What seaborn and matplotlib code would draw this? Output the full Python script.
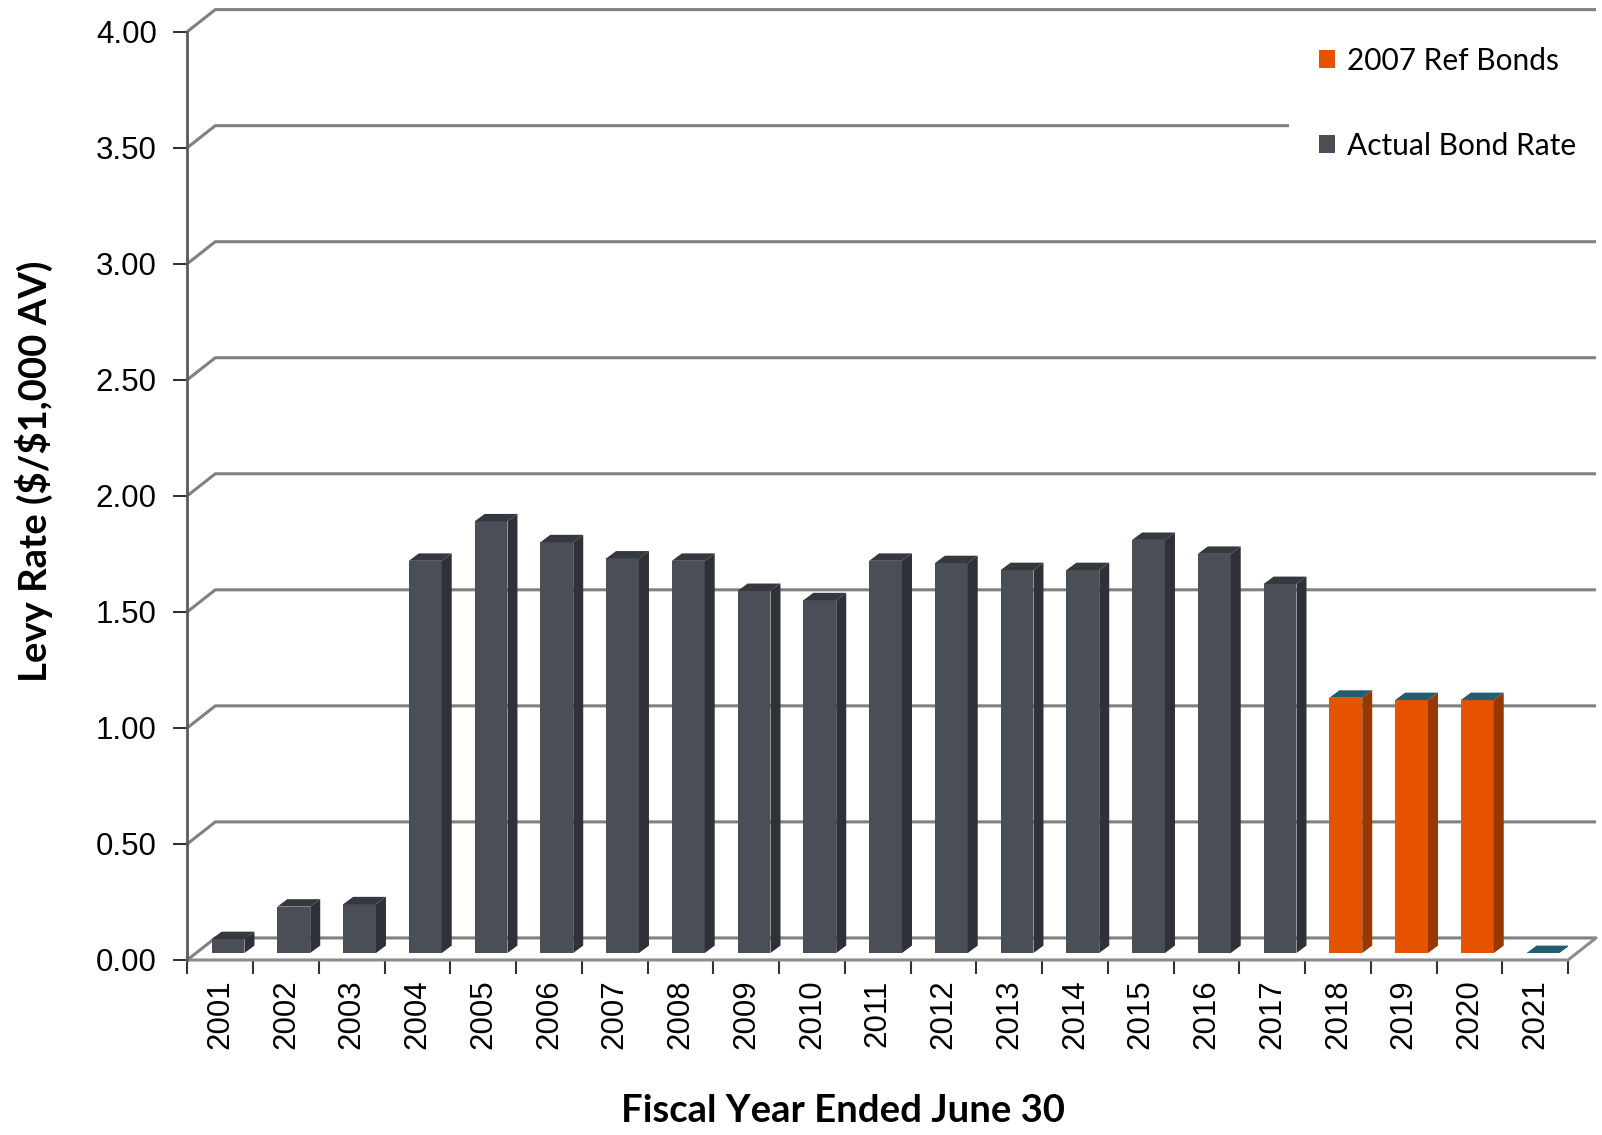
import numpy as np
import pandas as pd
import matplotlib
matplotlib.use("Agg")
import matplotlib.pyplot as plt
import seaborn as sns
from matplotlib.patches import Polygon, Patch
from matplotlib.colors import to_hex

# data
years = [str(y) for y in range(2001, 2022)]
rates = [0.06, 0.20, 0.21, 1.69, 1.86, 1.77, 1.70, 1.69, 1.56, 1.52, 1.69,
         1.68, 1.65, 1.65, 1.78, 1.72, 1.59, 1.10, 1.09, 1.09, 0.00]
series = ["Actual Bond Rate"] * 17 + ["2007 Ref Bonds"] * 4
series_names = ["2007 Ref Bonds", "Actual Bond Rate"]
front_colors = ["#e55300", "#4a4e57"]
side_colors = ["#983700", "#2e3137"]
top_colors = ["#245e6e", "#35383e"]
y_ticks = [0.0, 0.5, 1.0, 1.5, 2.0, 2.5, 3.0, 3.5, 4.0]

df = pd.DataFrame({"year": years, "rate": rates, "series": series})

sns.set_style("white")
plt.rcParams["font.family"] = ["Liberation Sans", "DejaVu Sans"]
plt.rcParams["text.color"] = "black"
plt.rcParams["xtick.color"] = "black"
plt.rcParams["ytick.color"] = "black"
plt.rcParams["axes.labelcolor"] = "black"

fig = plt.figure(figsize=(16.02, 11.35), dpi=100)
ax = fig.add_axes([0.1169, 0.1542, 0.8619, 0.8179])

sns.barplot(data=df, x="year", y="rate", hue="series", hue_order=series_names,
            palette=dict(zip(series_names, front_colors)), dodge=False,
            width=0.5, saturation=1, legend=False, linewidth=0, ax=ax, zorder=3)

# fake 3d: back wall offset and bar depth (data units)
OX, OY = 0.426, 0.095
BASE, SHIFT = 0.03, 0.12
BDX, BDY = 0.152, 0.032
faces = {f: (s, t) for f, s, t in zip(front_colors, side_colors, top_colors)}

for p in list(ax.patches):
    fc = to_hex(p.get_facecolor())
    side, top = faces[fc]
    x0 = p.get_x() + SHIFT
    w, h = p.get_width(), p.get_height()
    p.set_x(x0)
    p.set_y(BASE)
    y1 = BASE + h
    ax.add_patch(Polygon([(x0 + w, BASE), (x0 + w + BDX, BASE + BDY),
                          (x0 + w + BDX, y1 + BDY), (x0 + w, y1)],
                         closed=True, fc=side, ec="none", zorder=3))
    ax.add_patch(Polygon([(x0, y1), (x0 + BDX, y1 + BDY),
                          (x0 + w + BDX, y1 + BDY), (x0 + w, y1)],
                         closed=True, fc=top, ec="none", zorder=3))

# back wall gridlines
for v in y_ticks:
    ax.plot([-0.5, -0.5 + OX, 20.5 + OX], [v, v + OY, v + OY],
            color="#808080", lw=2.2, clip_on=False, zorder=1,
            solid_capstyle="butt")
ax.plot([-0.5, 20.5, 20.5 + OX], [0, 0, OY], color="#8c8c8c", lw=2.2,
        clip_on=False, zorder=2)

ax.set_xlim(-0.5, 20.5)
ax.set_ylim(0, 4)
sns.despine(ax=ax, top=True, right=True)
ax.spines["bottom"].set_visible(False)
ax.spines["left"].set_color("#5a5a5a")
ax.spines["left"].set_linewidth(2)
ax.spines["left"].set_zorder(4)

ax.set_yticks(y_ticks, labels=[f"{v:.2f}" for v in y_ticks])
ax.tick_params(axis="y", length=10, width=1.5, color="#333333", pad=12,
               labelsize=22.5, left=True)
ax.set_xticks(range(len(years)), labels=years, rotation=90)
ax.set_xticks(np.arange(-0.5, len(years)), minor=True)
ax.tick_params(axis="x", which="major", length=0, pad=14, labelsize=22.5)
ax.tick_params(axis="x", which="minor", length=10, width=1.5,
               color="#333333", bottom=True)
ax.set_xlabel("")
ax.set_ylabel("")

fig.text(843 / 1602, 1 - 1122 / 1135, "Fiscal Year Ended June 30",
         family="Lato", weight="bold", size=27.5, ha="center", va="baseline")
fig.text(34 / 1602, 1 - 471 / 1135, r"Levy Rate (\$/\$1,000 AV)",
         family="Lato", weight="bold", size=27.5, ha="center", va="center",
         rotation=90)

handles = [Patch(fc=c, ec="none", label=n) for n, c in zip(series_names, front_colors)]
leg = ax.legend(handles=handles, loc="upper left",
                bbox_to_anchor=(1289 / 1602, 1 - 17 / 1135),
                bbox_transform=fig.transFigure, frameon=True, fancybox=False,
                facecolor="white", edgecolor="none", framealpha=1,
                prop={"family": "Lato", "size": 21.5}, handlelength=0.55,
                handleheight=0.55, handletextpad=0.4, labelspacing=1.91,
                borderpad=1.0, borderaxespad=0)
leg.set_zorder(6)

fig.savefig("out.png", dpi=100)
